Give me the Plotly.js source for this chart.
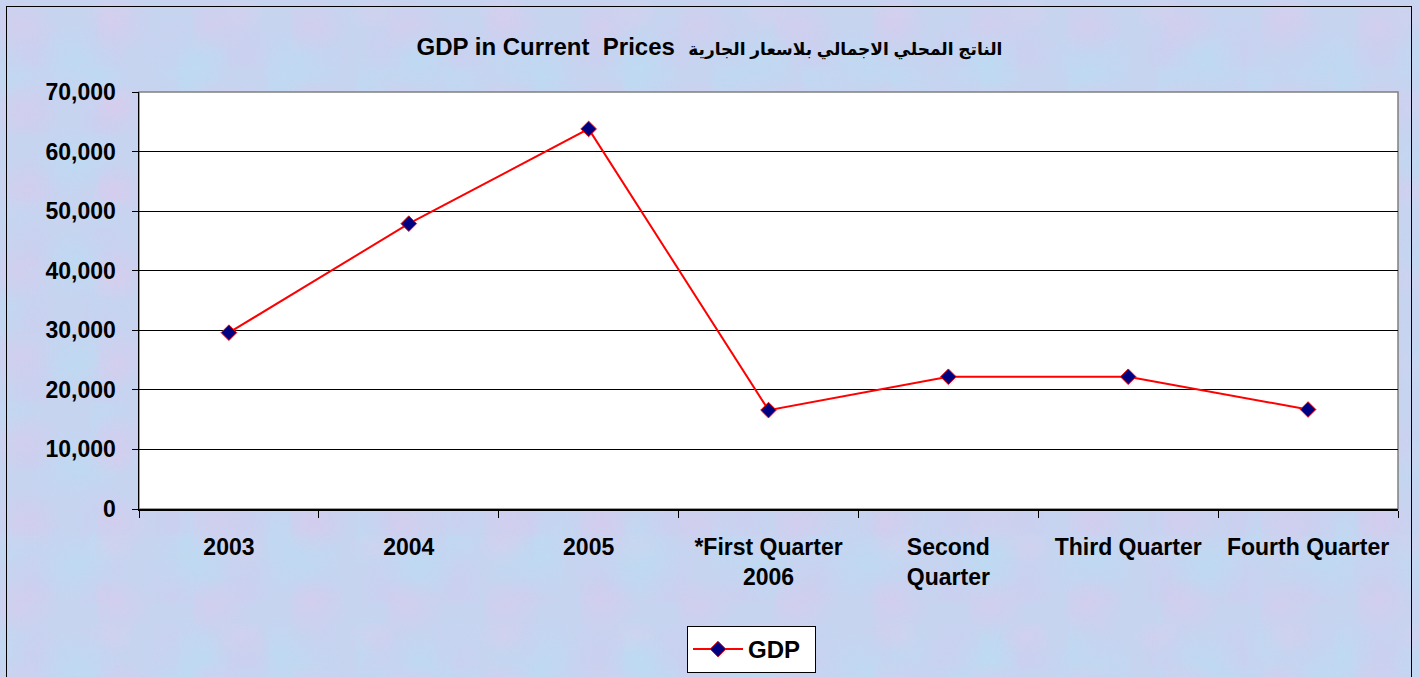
<!DOCTYPE html>
<html>
<head>
<meta charset="utf-8">
<script src="https://cdn.plot.ly/plotly-3.0.1.min.js"></script>
<style>
  html, body { margin: 0; padding: 0; width: 1419px; height: 677px; overflow: hidden; }
  body {
    background-color: #c6d4f0;
    background-image:
      radial-gradient(ellipse at 20% 30%, rgba(222,200,236,0.45) 0, rgba(222,200,236,0) 40px),
      radial-gradient(ellipse at 70% 60%, rgba(182,224,244,0.45) 0, rgba(182,224,244,0) 46px),
      radial-gradient(ellipse at 45% 80%, rgba(210,202,238,0.4) 0, rgba(210,202,238,0) 30px),
      radial-gradient(ellipse at 85% 15%, rgba(226,206,236,0.35) 0, rgba(226,206,236,0) 28px),
      radial-gradient(ellipse at 10% 75%, rgba(186,222,244,0.4) 0, rgba(186,222,244,0) 34px);
    background-size: 97px 83px, 113px 101px, 71px 67px, 131px 89px, 89px 113px;
  }
  #chart { position: absolute; left: 0; top: 0; width: 1419px; height: 677px; }
  #frame { position: absolute; left: 6px; top: 6px; width: 1406px; height: 690px;
           border: 1px solid #000; pointer-events: none; box-sizing: border-box; }
</style>
</head>
<body>
<div id="chart"></div>
<div id="frame"></div>
<script>
const categories = ['2003', '2004', '2005', '*First Quarter<br>2006', 'Second<br>Quarter', 'Third Quarter', 'Fourth Quarter'];
const gdpValues = [29600, 47900, 63800, 16600, 22200, 22200, 16700];
const seriesName = 'GDP';
const yTickValues = [0, 10000, 20000, 30000, 40000, 50000, 60000, 70000];
const titleEnglish = 'GDP in Current\u00a0\u00a0Prices\u00a0\u00a0';
const titleArabic = '\u0627\u0644\u0646\u0627\u062a\u062c \u0627\u0644\u0645\u062d\u0644\u064a \u0627\u0644\u0627\u062c\u0645\u0627\u0644\u064a \u0628\u0644\u0627\u0633\u0639\u0627\u0631 \u0627\u0644\u062c\u0627\u0631\u064a\u0629';

const fontFam = 'Liberation Sans, Arial, DejaVu Sans, sans-serif';

const trace = {
  x: categories,
  y: gdpValues,
  name: seriesName,
  type: 'scatter',
  mode: 'lines+markers',
  line: { color: '#ff0000', width: 2 },
  marker: { symbol: 'diamond', size: 12, color: '#000080', line: { color: '#ff0000', width: 1 } }
};

const layout = {
  width: 1419,
  height: 677,
  paper_bgcolor: 'rgba(0,0,0,0)',
  plot_bgcolor: '#ffffff',
  margin: { l: 139, r: 21, t: 92, b: 168, autoexpand: false },
  title: {
    text: '<b>' + titleEnglish + '<span style="font-size:17px">' + titleArabic + '</span></b>',
    font: { family: fontFam, size: 24, color: '#000' },
    x: 0.5, xanchor: 'center',
    y: 1 - 47 / 677, yref: 'container', yanchor: 'middle'
  },
  xaxis: {
    type: 'category',
    range: [-0.5, categories.length - 0.5],
    automargin: false,
    showgrid: false,
    showline: true, linecolor: '#000', linewidth: 1.5,
    ticks: 'outside', ticklen: 7, tickcolor: '#000', tickwidth: 1,
    tickson: 'boundaries',
    tickfont: { family: fontFam, size: 23, color: '#000', weight: 'bold' },
    ticklabelstandoff: 17,
    zeroline: false,
    fixedrange: true
  },
  yaxis: {
    range: [0, 70000],
    automargin: false,
    tickvals: yTickValues,
    tickformat: ',d',
    showgrid: true, gridcolor: '#000', gridwidth: 1,
    showline: true, linecolor: '#000', linewidth: 1.5,
    ticks: 'outside', ticklen: 6, tickcolor: '#000', tickwidth: 1,
    tickfont: { family: fontFam, size: 23, color: '#000', weight: 'bold' },
    ticklabelstandoff: 11,
    zeroline: false,
    fixedrange: true
  },
  showlegend: true,
  legend: {
    x: (687 - 139) / 1259, xanchor: 'left',
    y: (509 - 626) / 417, yanchor: 'top',
    bgcolor: '#ffffff', bordercolor: '#000', borderwidth: 1,
    font: { family: fontFam, size: 24, color: '#000', weight: 'bold' },
    orientation: 'h',
    itemwidth: 50,
    entrywidth: 62
  },
  shapes: [
    { type: 'rect', xref: 'paper', yref: 'paper', x0: 0, x1: 1, y0: 0, y1: 1,
      line: { color: '#808080', width: 1.5 }, fillcolor: 'rgba(0,0,0,0)', layer: 'below' }
  ]
};

Plotly.newPlot('chart', [trace], layout, { displayModeBar: false, staticPlot: true });
</script>
</body>
</html>
